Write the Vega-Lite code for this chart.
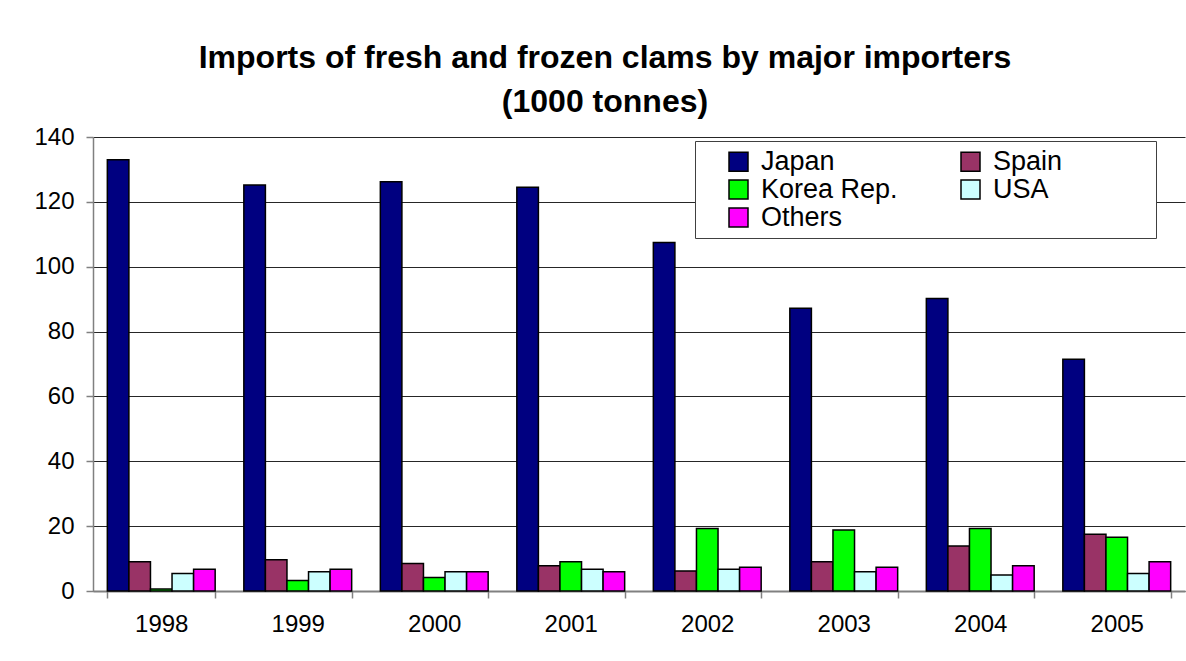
{
  "$schema": "https://vega.github.io/schema/vega-lite/v6.json",
  "width": 1092,
  "height": 454,
  "autosize": "none",
  "padding": {"left": 93, "top": 137, "right": 1, "bottom": 70},
  "background": "white",
  "title": {
    "text": ["Imports of fresh and frozen clams by major importers", "(1000 tonnes)"],
    "font": "Liberation Sans",
    "fontSize": 32,
    "fontWeight": "bold",
    "lineHeight": 44,
    "color": "black",
    "anchor": "middle",
    "dx": -34,
    "offset": 6
  },
  "config": {
    "view": {"stroke": null},
    "font": "Liberation Sans"
  },
  "data": {
    "values": [
      {"year": "1998", "country": "Japan", "value": 133.0},
      {"year": "1998", "country": "Spain", "value": 9.0},
      {"year": "1998", "country": "Korea Rep.", "value": 0.6},
      {"year": "1998", "country": "USA", "value": 5.4},
      {"year": "1998", "country": "Others", "value": 6.7},
      {"year": "1999", "country": "Japan", "value": 125.2},
      {"year": "1999", "country": "Spain", "value": 9.6},
      {"year": "1999", "country": "Korea Rep.", "value": 3.2},
      {"year": "1999", "country": "USA", "value": 5.9},
      {"year": "1999", "country": "Others", "value": 6.7},
      {"year": "2000", "country": "Japan", "value": 126.2},
      {"year": "2000", "country": "Spain", "value": 8.5},
      {"year": "2000", "country": "Korea Rep.", "value": 4.2},
      {"year": "2000", "country": "USA", "value": 5.9},
      {"year": "2000", "country": "Others", "value": 5.9},
      {"year": "2001", "country": "Japan", "value": 124.5},
      {"year": "2001", "country": "Spain", "value": 7.8},
      {"year": "2001", "country": "Korea Rep.", "value": 9.0},
      {"year": "2001", "country": "USA", "value": 6.7},
      {"year": "2001", "country": "Others", "value": 5.9},
      {"year": "2002", "country": "Japan", "value": 107.5},
      {"year": "2002", "country": "Spain", "value": 6.2},
      {"year": "2002", "country": "Korea Rep.", "value": 19.3},
      {"year": "2002", "country": "USA", "value": 6.7},
      {"year": "2002", "country": "Others", "value": 7.3},
      {"year": "2003", "country": "Japan", "value": 87.2},
      {"year": "2003", "country": "Spain", "value": 9.0},
      {"year": "2003", "country": "Korea Rep.", "value": 18.8},
      {"year": "2003", "country": "USA", "value": 5.9},
      {"year": "2003", "country": "Others", "value": 7.3},
      {"year": "2004", "country": "Japan", "value": 90.2},
      {"year": "2004", "country": "Spain", "value": 13.9},
      {"year": "2004", "country": "Korea Rep.", "value": 19.3},
      {"year": "2004", "country": "USA", "value": 4.9},
      {"year": "2004", "country": "Others", "value": 7.8},
      {"year": "2005", "country": "Japan", "value": 71.5},
      {"year": "2005", "country": "Spain", "value": 17.5},
      {"year": "2005", "country": "Korea Rep.", "value": 16.6},
      {"year": "2005", "country": "USA", "value": 5.4},
      {"year": "2005", "country": "Others", "value": 9.0}
    ]
  },
  "mark": {"type": "bar", "stroke": "black", "strokeWidth": 1.5},
  "encoding": {
    "x": {
      "field": "year",
      "type": "nominal",
      "title": null,
      "scale": {"paddingInner": 0.21, "paddingOuter": 0.105},
      "axis": {
        "labelAngle": 0,
        "labelFontSize": 24,
        "labelColor": "black",
        "labelPadding": 14,
        "tickBand": "extent",
        "tickSize": 7,
        "tickColor": "#808080",
        "tickWidth": 1.5,
        "domainColor": "#808080",
        "domainWidth": 2,
        "grid": false
      }
    },
    "xOffset": {
      "field": "country",
      "type": "nominal",
      "sort": ["Japan", "Spain", "Korea Rep.", "USA", "Others"],
      "scale": {"paddingInner": 0, "paddingOuter": 0}
    },
    "y": {
      "field": "value",
      "type": "quantitative",
      "title": null,
      "scale": {"domain": [0, 140], "nice": false},
      "axis": {
        "values": [0, 20, 40, 60, 80, 100, 120, 140],
        "labelFontSize": 24,
        "labelColor": "black",
        "labelPadding": 12,
        "tickSize": 7,
        "tickColor": "#808080",
        "tickWidth": 1.5,
        "domainColor": "#808080",
        "domainWidth": 1.5,
        "grid": true,
        "gridColor": "#000000",
        "gridOpacity": 0.85,
        "gridWidth": 1
      }
    },
    "color": {
      "field": "country",
      "type": "nominal",
      "scale": {
        "domain": ["Japan", "Korea Rep.", "Others", "Spain", "USA"],
        "range": ["#000080", "#00FF00", "#FF00FF", "#993366", "#CCFFFF"]
      },
      "legend": {
        "orient": "none",
        "legendX": 602,
        "legendY": 4,
        "columns": 2,
        "gridAlign": "all",
        "columnPadding": 36,
        "rowPadding": 0,
        "padding": 7,
        "strokeColor": "#404040",
        "fillColor": "white",
        "title": " ",
        "titleOrient": "right",
        "titleFontSize": 1,
        "titlePadding": 87,
        "symbolOffset": 23,
        "symbolType": "square",
        "symbolSize": 361,
        "symbolStrokeColor": "black",
        "symbolStrokeWidth": 1.5,
        "symbolOpacity": 1,
        "labelFontSize": 27,
        "labelColor": "black",
        "labelOffset": 9,
        "labelLimit": 400
      }
    }
  }
}
